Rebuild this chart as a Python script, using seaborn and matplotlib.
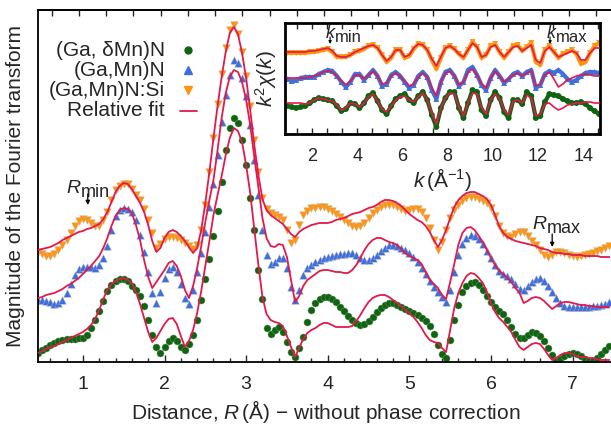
import numpy as np
import matplotlib
matplotlib.use("Agg")
import matplotlib.pyplot as plt
import seaborn as sns
from matplotlib.lines import Line2D
from matplotlib.ticker import MultipleLocator

# ---------------- data (main panel: |FT| vs R, arbitrary units, curves offset) ----------------
R_START, R_STEP = 0.45, 0.05

dmn_data = [9, 12, 14, 17, 19, 21, 22, 23, 23, 23,
            24, 24, 27, 34, 42, 51, 61, 71, 77, 81,
            83, 83, 81, 76, 72, 66, 56, 42, 27, 15,
            9, 15, 21, 24, 21, 15, 12, 18, 27, 42,
            62, 83, 103, 126, 151, 180, 212, 234, 244, 239,
            222, 197, 164, 132, 92, 63, 34, 28, 32, 35,
            30, 20, 10, 5, 14, 25, 40, 52, 59, 63,
            65, 65, 63, 60, 55, 51, 46, 42, 39, 37,
            38, 41, 45, 50, 54, 57, 59, 59, 57, 55,
            53, 51, 49, 47, 44, 41, 36, 28, 17, 8,
            4, 22, 42, 57, 70, 76, 79, 80, 77, 72,
            66, 60, 55, 51, 48, 42, 35, 28, 24, 24,
            27, 30, 29, 26, 21, 14, 7, 2, 3, 6,
            8, 9, 8, 6, 3, 1, 1, 4, 8, 12,
            16]
dmn_fit = [9, 11, 13, 15, 16, 18, 20, 22, 24, 26,
           28, 30, 33, 37, 43, 52, 63, 72, 78, 81,
           83, 84, 82, 79, 70, 58, 44, 30, 20, 24,
           31, 38, 43, 44, 38, 26, 15, 21, 32, 49,
           71, 96, 121, 147, 167, 186, 207, 224, 234, 231,
           220, 197, 169, 133, 97, 65, 48, 42, 40, 39,
           36, 26, 15, 5, 14, 23, 29, 32, 34, 37,
           39, 39, 37, 35, 35, 35, 35, 36, 41, 47,
           54, 60, 64, 66, 67, 67, 65, 62, 59, 56,
           52, 49, 45, 40, 34, 27, 22, 20, 19, 14,
           10, 32, 54, 69, 79, 86, 89, 88, 84, 79,
           70, 59, 50, 44, 40, 35, 30, 22, 15, 12,
           15, 18, 19, 18, 13, 7, 2, 4, 7, 9,
           9, 8, 6, 5, 5, 4, 4, 3, 2, 2,
           2]

mn_data = [62, 62, 61, 60, 58, 59, 62, 69, 78, 87,
           93, 95, 95, 95, 94, 97, 104, 116, 132, 146,
           152, 154, 153, 150, 142, 127, 110, 90, 69, 59,
           70, 84, 93, 95, 90, 78, 64, 58, 72, 90,
           109, 130, 155, 178, 207, 240, 267, 287, 302, 299,
           284, 266, 237, 202, 167, 132, 107, 98, 100, 104,
           104, 94, 75, 62, 72, 87, 94, 97, 100, 102,
           104, 105, 106, 107, 108, 108, 109, 109, 107, 104,
           102, 102, 104, 107, 111, 114, 117, 117, 116, 114,
           112, 109, 105, 100, 94, 88, 81, 75, 70, 65,
           60, 72, 90, 107, 118, 124, 127, 126, 123, 118,
           111, 104, 97, 91, 88, 86, 83, 78, 73, 72,
           76, 80, 83, 84, 81, 76, 70, 64, 59, 56,
           55, 55, 55, 55, 55, 55, 56, 56, 57, 58,
           60]
mn_fit = [64, 65, 67, 68, 69, 71, 73, 76, 78, 81,
          84, 88, 92, 96, 101, 106, 114, 124, 136, 146,
          152, 154, 153, 149, 137, 122, 102, 85, 74, 80,
          86, 92, 99, 101, 96, 86, 72, 64, 76, 94,
          116, 140, 162, 182, 212, 244, 269, 285, 292, 290,
          280, 262, 237, 205, 175, 144, 124, 116, 115, 118,
          117, 105, 82, 60, 66, 76, 82, 85, 88, 91,
          92, 92, 91, 90, 90, 89, 89, 92, 97, 104,
          112, 118, 122, 124, 124, 122, 120, 119, 117, 113,
          109, 106, 104, 102, 98, 90, 82, 78, 74, 67,
          63, 80, 98, 117, 129, 134, 135, 132, 126, 120,
          112, 104, 97, 91, 88, 84, 80, 74, 69, 59,
          61, 64, 65, 64, 61, 57, 53, 56, 59, 60,
          60, 59, 58, 57, 57, 56, 56, 55, 55, 55,
          55]

si_data = [110, 108, 106, 106, 108, 112, 117, 122, 129, 136,
           141, 143, 142, 139, 136, 136, 142, 150, 162, 172,
           176, 178, 178, 173, 167, 162, 153, 142, 129, 114,
           118, 123, 125, 125, 124, 122, 119, 116, 113, 117,
           132, 157, 190, 224, 258, 288, 314, 332, 337, 328,
           310, 286, 256, 222, 190, 164, 153, 149, 147, 145,
           142, 132, 119, 122, 137, 147, 151, 154, 154, 155,
           155, 153, 151, 148, 145, 142, 139, 136, 135, 136,
           139, 144, 149, 152, 155, 157, 157, 157, 155, 153,
           151, 152, 153, 153, 150, 144, 134, 122, 112, 120,
           132, 144, 152, 157, 161, 164, 165, 165, 163, 161,
           159, 154, 146, 136, 129, 126, 125, 128, 130, 130,
           126, 121, 117, 112, 107, 105, 107, 110, 110, 109,
           107, 106, 105, 106, 107, 108, 109, 111, 112, 114,
           116]
si_fit = [112, 113, 114, 115, 117, 119, 122, 124, 126, 128,
          130, 131, 133, 134, 136, 138, 143, 150, 160, 170,
          176, 179, 178, 173, 166, 159, 150, 137, 121, 110,
          114, 124, 130, 132, 130, 126, 121, 115, 109, 114,
          132, 159, 190, 224, 256, 285, 310, 329, 335, 328,
          309, 284, 252, 217, 187, 163, 152, 147, 144, 141,
          138, 133, 128, 125, 130, 133, 135, 137, 138, 139,
          139, 139, 140, 142, 143, 144, 146, 148, 149, 150,
          152, 154, 155, 157, 160, 162, 162, 161, 159, 156,
          152, 148, 145, 142, 140, 136, 130, 122, 115, 122,
          132, 144, 155, 162, 166, 169, 170, 170, 168, 166,
          163, 157, 147, 136, 129, 125, 123, 121, 120, 119,
          118, 117, 116, 114, 113, 112, 110, 109, 109, 108,
          108, 107, 107, 107, 106, 106, 106, 106, 105, 105,
          105]

# ---------------- data (inset: k^2 chi(k), arbitrary units, curves offset) ----------------
K_START, K_STEP = 0.9, 0.2

k_dmn_data = [28, 27, 26, 27, 28, 31, 34, 36, 35, 34,
              33, 28, 23, 25, 31, 30, 26, 31, 38, 41,
              33, 24, 20, 28, 35, 38, 40, 34, 31, 38,
              42, 34, 19, 7, 26, 36, 42, 42, 26, 16,
              31, 44, 42, 24, 18, 34, 42, 36, 22, 16,
              34, 34, 30, 42, 38, 16, 18, 32, 40, 39,
              38, 35, 33, 31, 31, 32, 30, 26, 23, 20]
k_dmn_fit = [31, 31, 31, 31, 30, 31, 34, 36, 35, 34,
             33, 29, 24, 26, 31, 30, 27, 31, 37, 40,
             33, 25, 22, 28, 34, 37, 38, 34, 32, 37,
             41, 34, 21, 10, 26, 36, 41, 40, 27, 18,
             31, 41, 40, 26, 20, 34, 40, 35, 24, 19,
             33, 34, 31, 39, 36, 18, 20, 30, 31, 27,
             24, 26, 29, 30, 31, 31, 32, 32, 31, 31]
k_mn_data = [55, 53, 54, 56, 57, 57, 57, 60, 62, 64,
             63, 58, 52, 47, 52, 60, 60, 54, 59, 64,
             58, 48, 50, 59, 62, 58, 52, 46, 49, 58,
             62, 57, 44, 35, 52, 62, 64, 58, 48, 52,
             64, 67, 59, 49, 44, 56, 64, 58, 51, 55,
             60, 62, 58, 62, 64, 46, 49, 60, 63, 61,
             64, 60, 55, 52, 54, 58, 61, 62, 62, 61]
k_mn_fit = [56, 56, 56, 56, 56, 57, 58, 60, 62, 63,
            62, 58, 53, 49, 53, 59, 59, 55, 59, 63,
            58, 50, 51, 58, 61, 58, 53, 48, 50, 57,
            61, 57, 46, 38, 52, 61, 63, 58, 49, 52,
            62, 65, 59, 50, 46, 56, 63, 58, 52, 55,
            59, 61, 58, 61, 63, 48, 50, 59, 62, 55,
            47, 50, 54, 56, 58, 59, 60, 59, 58, 58]
k_si_data = [81, 81, 81, 81, 81, 82, 82, 83, 84, 85,
             82, 77, 77, 77, 79, 82, 83, 85, 88, 89,
             86, 79, 72, 76, 84, 84, 76, 78, 85, 90,
             89, 84, 74, 65, 76, 86, 88, 85, 80, 76,
             84, 92, 87, 76, 79, 88, 90, 82, 76, 82,
             88, 89, 83, 87, 91, 72, 69, 84, 88, 82,
             76, 80, 82, 84, 80, 70, 72, 81, 88, 91]
k_si_fit = [82, 82, 82, 82, 82, 83, 83, 84, 85, 86,
            83, 78, 77, 77, 79, 82, 84, 86, 88, 89,
            86, 79, 73, 77, 84, 84, 77, 79, 86, 90,
            89, 84, 75, 68, 77, 86, 88, 85, 80, 77,
            84, 91, 87, 77, 79, 87, 89, 82, 77, 82,
            87, 88, 83, 86, 89, 74, 71, 83, 87, 82,
            77, 79, 81, 83, 81, 74, 74, 81, 86, 86]

labels = ["(Ga, δMn)N", "(Ga,Mn)N", "(Ga,Mn)N:Si", "Relative fit"]
R_ticks = [1, 2, 3, 4, 5, 6, 7]
k_ticks = [2, 4, 6, 8, 10, 12, 14]

GREEN, BLUE, ORANGE, RED = "#0f640f", "#3f6fdc", "#ff9410", "#e2194a"

# ---------------- style ----------------
sns.set_style("ticks")
plt.rcParams['font.family'] = ['Liberation Sans', 'DejaVu Sans']
plt.rcParams['mathtext.fontset'] = 'custom'
plt.rcParams['mathtext.rm'] = 'Liberation Sans'
plt.rcParams['mathtext.it'] = 'Liberation Sans:italic'
plt.rcParams['mathtext.bf'] = 'Liberation Sans:bold'

W, H = 611, 428
fig = plt.figure(figsize=(W / 100, H / 100), dpi=100)

# ---------------- main panel ----------------
ax = fig.add_axes([38 / W, 66 / H, (613.4 - 38) / W, 352 / H])
R = np.round(R_START + R_STEP * np.arange(len(dmn_data)), 3)

sns.scatterplot(x=R, y=dmn_data, ax=ax, marker='o', s=26, color=GREEN,
                edgecolor='#7a9a7a', linewidth=0.3, zorder=2, legend=False)
sns.scatterplot(x=R, y=mn_data, ax=ax, marker='^', s=30, color=BLUE,
                edgecolor='#b5b5c5', linewidth=0.3, zorder=2, legend=False)
sns.scatterplot(x=R, y=si_data, ax=ax, marker='v', s=30, color=ORANGE,
                edgecolor='#c8b8a0', linewidth=0.3, zorder=2, legend=False)
for fit in (dmn_fit, mn_fit, si_fit):
    sns.lineplot(x=R, y=fit, ax=ax, color=RED, linewidth=1.3, estimator=None,
                 sort=False, legend=False, zorder=3)

ax.set_xlim(0.45, 7.5)
ax.set_ylim(0, 352)
ax.set_yticks([])
ax.set_xticks(R_ticks)
ax.set_xticklabels([str(t) for t in R_ticks])
ax.xaxis.set_minor_locator(MultipleLocator(0.2))
ax.tick_params(axis='x', which='major', direction='in', length=5, width=1,
               labelsize=14, pad=10, top=False)
ax.tick_params(axis='x', which='minor', direction='in', length=3, width=1, top=False)
for sp in ax.spines.values():
    sp.set_linewidth(1.3)
    sp.set_color('black')
ax.spines['right'].set_visible(False)

top = ax.secondary_xaxis('top')
top.set_xticks([0.62 + i / 3 for i in range(21)])
top.set_xticklabels([])
top.tick_params(direction='in', length=4, width=1)
top.spines['top'].set_linewidth(1.3)

ax.set_xlabel('Distance, $R\\,$(Å) − without phase correction', fontsize=15, labelpad=4)
ax.set_ylabel('Magnitude of the Fourier transform', fontsize=15, labelpad=9)

# R_min / R_max markers
ax.text(0.80, 169, 'R', fontsize=14, style='italic', ha='left', va='baseline')
ax.text(0.97, 165, 'min', fontsize=13, ha='left', va='baseline')
ax.annotate('', xy=(1.06, 157), xytext=(1.06, 168),
            arrowprops=dict(arrowstyle='-|>', lw=0.9, color='black', mutation_scale=6,
                            shrinkA=0, shrinkB=0))
ax.text(6.51, 133, 'R', fontsize=14, style='italic', ha='left', va='baseline')
ax.text(6.69, 129, 'max', fontsize=13, ha='left', va='baseline')
ax.annotate('', xy=(6.75, 115), xytext=(6.75, 128),
            arrowprops=dict(arrowstyle='-|>', lw=0.9, color='black', mutation_scale=6,
                            shrinkA=0, shrinkB=0))

# legend: label on the left, symbol on the right
leg_rows = [50, 70, 90, 111]
tf = fig.transFigure
for lab, yy in zip(labels, leg_rows):
    fig.text(165 / W, 1 - yy / H, lab, fontsize=15, ha='right', va='center')
fig.add_artist(Line2D([188 / W], [1 - 50 / H], transform=tf, marker='o', ms=5,
                      color=GREEN, ls='none'))
fig.add_artist(Line2D([188 / W], [1 - 70 / H], transform=tf, marker='^', ms=5.5,
                      color=BLUE, ls='none'))
fig.add_artist(Line2D([188 / W], [1 - 90 / H], transform=tf, marker='v', ms=5.5,
                      color=ORANGE, ls='none'))
fig.add_artist(Line2D([180 / W, 197 / W], [1 - 111 / H, 1 - 111 / H], transform=tf,
                      color=RED, lw=1.3))

# ---------------- inset ----------------
axi = fig.add_axes([285 / W, (H - 134) / H, 315 / W, 111 / H])
K = np.round(K_START + K_STEP * np.arange(len(k_dmn_data)), 3)
for dat, col, mk in ((k_dmn_data, GREEN, 'o'), (k_mn_data, BLUE, '^'), (k_si_data, ORANGE, 'v')):
    sns.lineplot(x=K, y=dat, ax=axi, color=col, linewidth=3.0, estimator=None,
                 sort=False, legend=False, zorder=2)
    sns.scatterplot(x=K, y=dat, ax=axi, marker=mk, s=18, color=col,
                    edgecolor='none', zorder=2, legend=False)
for fit in (k_dmn_fit, k_mn_fit, k_si_fit):
    sns.lineplot(x=K, y=fit, ax=axi, color=RED, linewidth=1.2, estimator=None,
                 sort=False, legend=False, zorder=3)

axi.set_xlim(0.805, 14.74)
axi.set_ylim(0, 111)
axi.set_yticks([])
axi.set_xticks(k_ticks)
axi.set_xticklabels([str(t) for t in k_ticks])
axi.xaxis.set_minor_locator(MultipleLocator(2 / 3))
axi.tick_params(axis='x', which='both', direction='in', length=4, width=1,
                top=True, labelsize=13, pad=10)
for sp in axi.spines.values():
    sp.set_linewidth(2.0)
    sp.set_color('black')
axi.set_xlabel('$k\\,$(Å$^{-1}$)', fontsize=15, labelpad=1)
axi.set_ylabel('$k^2\\chi(k)$', fontsize=15, labelpad=4)

axi.text(2.62, 96, 'k', fontsize=13, style='italic', ha='left', va='baseline')
axi.text(3.0, 92, 'min', fontsize=12, ha='left', va='baseline')
axi.annotate('', xy=(2.8, 90), xytext=(2.8, 97),
             arrowprops=dict(arrowstyle='-|>', lw=0.8, color='black', mutation_scale=4,
                             shrinkA=0, shrinkB=0))
axi.text(12.38, 96, 'k', fontsize=13, style='italic', ha='left', va='baseline')
axi.text(12.8, 92, 'max', fontsize=12, ha='left', va='baseline')
axi.annotate('', xy=(12.53, 90), xytext=(12.53, 97),
             arrowprops=dict(arrowstyle='-|>', lw=0.8, color='black', mutation_scale=4,
                             shrinkA=0, shrinkB=0))

fig.savefig('out.png', dpi=100)
